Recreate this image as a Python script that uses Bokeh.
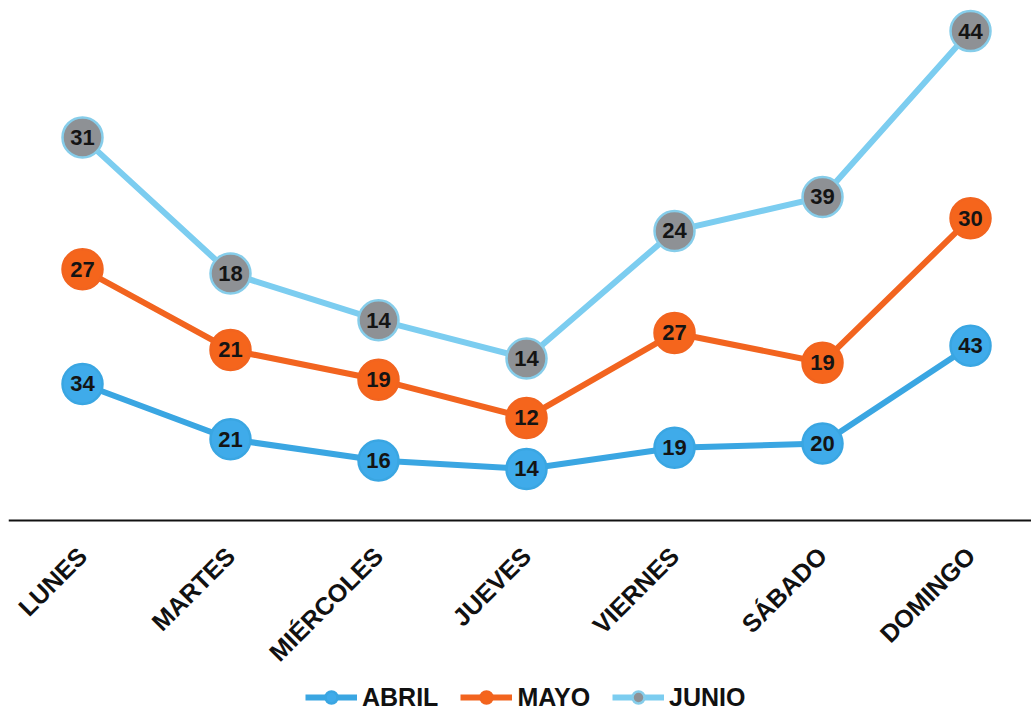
import numpy as np
from math import pi
from bokeh.plotting import figure
from bokeh.models import ColumnDataSource, Range1d, FixedTicker, Legend, LegendItem
from bokeh.core.properties import value
from bokeh.embed import file_html
from bokeh.resources import INLINE

days = ["LUNES", "MARTES", "MIÉRCOLES", "JUEVES", "VIERNES", "SÁBADO", "DOMINGO"]
abril = [34, 21, 16, 14, 19, 20, 43]
mayo = [27, 21, 19, 12, 27, 19, 30]
junio = [31, 18, 14, 14, 24, 39, 44]

series_names = ["ABRIL", "MAYO", "JUNIO"]
line_colors = ["#3aa6e2", "#f2641f", "#7ccdf0"]
fill_colors = ["#3fabea", "#f5651c", "#8e9195"]
edge_colors = ["#3aa6e2", "#f2641f", "#86cdea"]

FONT = "Liberation Sans"

x = list(range(len(days)))
stack = np.cumsum(np.array([abril, mayo, junio]), axis=0)

p = figure(frame_width=1023, frame_height=721, output_backend="svg", toolbar_location=None,
           x_range=Range1d(-0.5, 6.412), y_range=Range1d(-45.4, 124.2),
           min_border_left=8, min_border_right=0, min_border_top=0,
           min_border_bottom=0, outline_line_color=None,
           background_fill_color="white", border_fill_color="white")

p.yaxis.visible = False
p.xgrid.visible = False
p.ygrid.visible = False

ax = p.xaxis[0]
ax.fixed_location = 1.88
ax.ticker = FixedTicker(ticks=x)
ax.major_label_overrides = {i: d for i, d in enumerate(days)}
ax.major_label_orientation = pi / 4
ax.major_label_text_font = FONT
ax.major_label_text_font_style = "bold"
ax.major_label_text_font_size = "25px"
ax.major_label_text_color = "#111111"
ax.major_label_standoff = 25
ax.axis_line_color = "#111111"
ax.axis_line_width = 2
ax.major_tick_line_color = None
ax.minor_tick_line_color = None

raw = [abril, mayo, junio]
sources = []
for i in range(3):
    src = ColumnDataSource(dict(x=x, y=list(stack[i]), lab=[str(v) for v in raw[i]]))
    sources.append(src)

lines = []
for i in range(3):
    lines.append(p.line("x", "y", source=sources[i], line_color=line_colors[i], line_width=6))
dots = []
for i in range(3):
    dots.append(p.scatter("x", "y", source=sources[i], size=40, fill_color=fill_colors[i],
                          line_color=edge_colors[i], line_width=2.5))
for i in range(3):
    p.text("x", "y", text="lab", source=sources[i], text_align="center", text_baseline="middle",
           text_font=value(FONT), text_font_style="bold", text_font_size="22px",
           text_color="#141414")

legend = Legend(items=[LegendItem(label=series_names[i], renderers=[lines[i], dots[i]]) for i in range(3)],
                orientation="horizontal", location=(297, 9),
                label_text_font=FONT, label_text_font_style="bold", label_text_font_size="25px",
                label_text_color="#111111", glyph_width=52, glyph_height=30, label_standoff=5,
                spacing=22, border_line_color=None, background_fill_alpha=0, margin=0, padding=0)
p.add_layout(legend, "center")

open("out.html", "w").write(file_html(p, INLINE))
